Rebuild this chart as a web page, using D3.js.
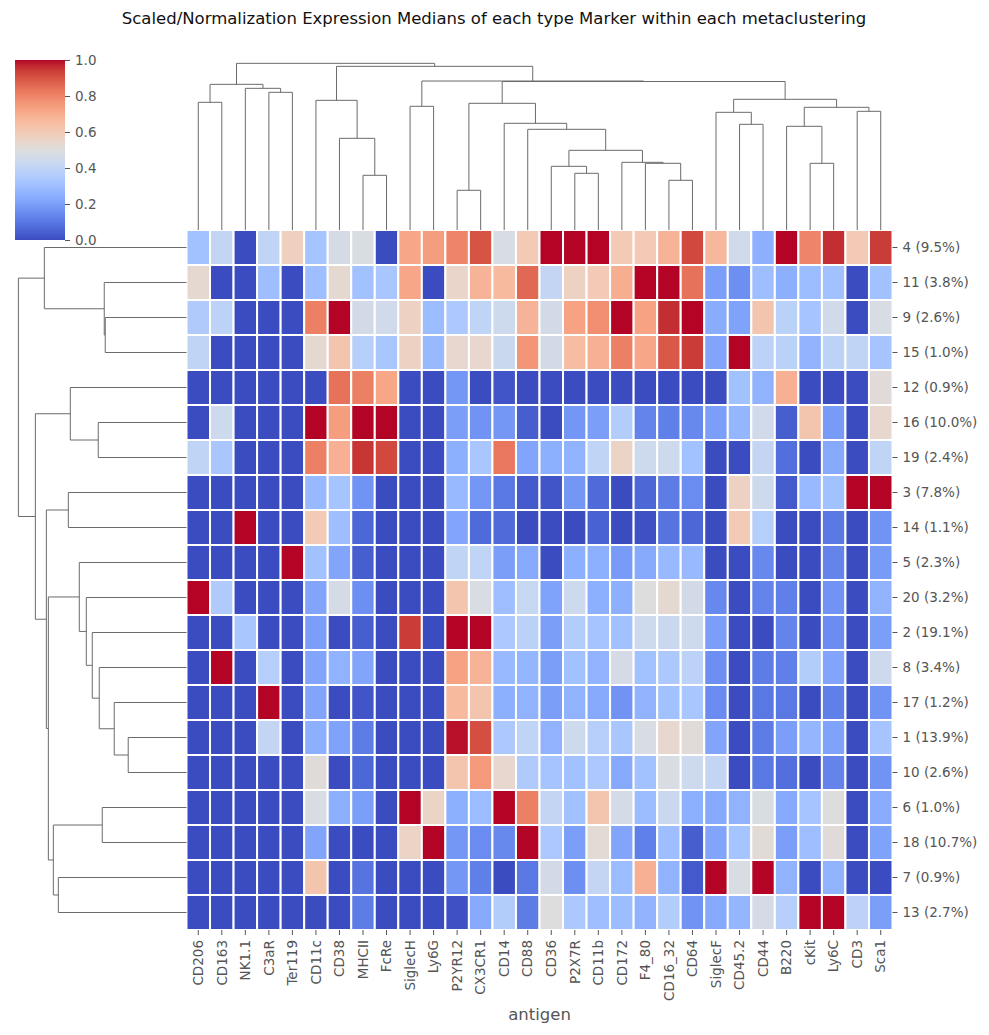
<!DOCTYPE html>
<html>
<head>
<meta charset="utf-8">
<script src="https://cdn.jsdelivr.net/npm/d3@7"></script>
<style>
  body { margin: 0; background: #fff; }
  svg text { font-family: "DejaVu Sans", sans-serif; }
</style>
</head>
<body>
<div id="chart"></div>
<script>
// antigens (columns) in clustered order
const antigens = ["CD206", "CD163", "NK1.1", "C3aR", "Ter119", "CD11c", "CD38", "MHCII", "FcRe",
  "SiglecH", "Ly6G", "P2YR12", "CX3CR1", "CD14", "CD88", "CD36", "P2X7R", "CD11b", "CD172",
  "F4_80", "CD16_32", "CD64", "SiglecF", "CD45.2", "CD44", "B220", "cKit", "Ly6C", "CD3", "Sca1"];

// metaclusters (rows) in clustered order
const clusters = ["4 (9.5%)", "11 (3.8%)", "9 (2.6%)", "15 (1.0%)", "12 (0.9%)", "16 (10.0%)",
  "19 (2.4%)", "3 (7.8%)", "14 (1.1%)", "5 (2.3%)", "20 (3.2%)", "2 (19.1%)", "8 (3.4%)",
  "17 (1.2%)", "1 (13.9%)", "10 (2.6%)", "6 (1.0%)", "18 (10.7%)", "7 (0.9%)", "13 (2.7%)"];

// scaled medians, one row per cluster, same order as antigens
const medians = [
  [0.31,0.41,0.00,0.40,0.58,0.32,0.47,0.48,0.00,0.72,0.74,0.80,0.90,0.48,0.60,1.00,1.00,1.00,0.60,0.60,0.68,0.92,0.67,0.45,0.25,1.00,0.80,0.96,0.60,0.94],
  [0.53,0.00,0.00,0.30,0.00,0.30,0.53,0.31,0.33,0.72,0.00,0.55,0.68,0.66,0.86,0.41,0.57,0.60,0.70,1.00,1.00,0.84,0.20,0.16,0.30,0.25,0.29,0.31,0.00,0.31],
  [0.35,0.39,0.00,0.00,0.00,0.81,1.00,0.46,0.45,0.57,0.29,0.34,0.40,0.44,0.68,0.46,0.73,0.78,1.00,0.73,0.96,1.00,0.24,0.21,0.62,0.38,0.32,0.45,0.00,0.48],
  [0.40,0.00,0.00,0.00,0.00,0.53,0.62,0.37,0.33,0.57,0.28,0.54,0.54,0.43,0.76,0.46,0.65,0.69,0.81,0.72,0.89,0.94,0.22,1.00,0.39,0.38,0.26,0.39,0.40,0.32],
  [0.00,0.00,0.00,0.00,0.00,0.00,0.84,0.81,0.72,0.00,0.00,0.18,0.00,0.02,0.00,0.00,0.00,0.00,0.00,0.00,0.00,0.00,0.00,0.31,0.26,0.69,0.00,0.00,0.00,0.51],
  [0.00,0.44,0.00,0.00,0.00,1.00,0.74,1.00,1.00,0.00,0.00,0.20,0.17,0.18,0.04,0.00,0.18,0.20,0.36,0.13,0.12,0.14,0.20,0.27,0.45,0.04,0.62,0.19,0.00,0.54],
  [0.40,0.33,0.00,0.00,0.00,0.81,0.69,0.95,0.92,0.00,0.00,0.25,0.33,0.83,0.22,0.25,0.26,0.40,0.56,0.44,0.44,0.31,0.00,0.00,0.41,0.08,0.00,0.23,0.00,0.40],
  [0.00,0.00,0.00,0.00,0.00,0.28,0.32,0.17,0.00,0.00,0.00,0.28,0.18,0.10,0.03,0.02,0.18,0.07,0.00,0.06,0.11,0.15,0.00,0.57,0.44,0.03,0.28,0.31,1.00,1.00],
  [0.00,0.00,1.00,0.00,0.00,0.60,0.30,0.06,0.00,0.00,0.00,0.22,0.07,0.07,0.00,0.00,0.00,0.05,0.00,0.01,0.09,0.06,0.00,0.60,0.37,0.00,0.00,0.10,0.00,0.17],
  [0.00,0.00,0.00,0.00,1.00,0.31,0.22,0.04,0.00,0.00,0.00,0.40,0.40,0.20,0.23,0.00,0.25,0.25,0.19,0.23,0.28,0.28,0.00,0.00,0.14,0.00,0.00,0.13,0.00,0.19],
  [1.00,0.35,0.00,0.00,0.00,0.22,0.47,0.16,0.00,0.00,0.00,0.62,0.48,0.30,0.42,0.21,0.44,0.25,0.25,0.50,0.53,0.46,0.14,0.00,0.13,0.12,0.00,0.17,0.00,0.26],
  [0.00,0.00,0.33,0.00,0.00,0.20,0.00,0.04,0.00,0.94,0.00,1.00,1.00,0.34,0.38,0.20,0.36,0.32,0.31,0.44,0.43,0.44,0.20,0.00,0.00,0.13,0.00,0.15,0.00,0.20],
  [0.00,1.00,0.00,0.37,0.00,0.22,0.26,0.22,0.00,0.00,0.00,0.73,0.68,0.28,0.27,0.20,0.31,0.26,0.47,0.31,0.34,0.39,0.16,0.00,0.11,0.12,0.36,0.22,0.00,0.44],
  [0.00,0.00,0.00,1.00,0.00,0.22,0.00,0.02,0.00,0.00,0.00,0.66,0.62,0.25,0.26,0.20,0.26,0.23,0.17,0.26,0.31,0.33,0.15,0.00,0.10,0.10,0.00,0.12,0.00,0.17],
  [0.00,0.00,0.00,0.41,0.00,0.25,0.21,0.11,0.00,0.00,0.00,0.99,0.91,0.34,0.40,0.26,0.44,0.37,0.33,0.48,0.54,0.51,0.22,0.00,0.11,0.20,0.27,0.21,0.00,0.32],
  [0.00,0.00,0.00,0.00,0.00,0.51,0.00,0.06,0.00,0.00,0.00,0.62,0.75,0.54,0.35,0.32,0.31,0.34,0.23,0.31,0.48,0.44,0.41,0.00,0.10,0.08,0.00,0.13,0.00,0.17],
  [0.00,0.00,0.00,0.00,0.00,0.48,0.25,0.20,0.00,1.00,0.56,0.25,0.29,1.00,0.81,0.41,0.31,0.62,0.47,0.29,0.43,0.25,0.23,0.26,0.48,0.23,0.32,0.50,0.00,0.24],
  [0.00,0.00,0.00,0.00,0.00,0.22,0.00,0.00,0.00,0.56,1.00,0.18,0.15,0.14,1.00,0.34,0.20,0.52,0.22,0.12,0.30,0.04,0.22,0.32,0.52,0.20,0.30,0.51,0.00,0.21],
  [0.00,0.00,0.00,0.00,0.00,0.62,0.00,0.09,0.00,0.00,0.00,0.18,0.12,0.00,0.10,0.46,0.16,0.41,0.29,0.69,0.26,0.03,1.00,0.48,1.00,0.26,0.00,0.26,0.00,0.00],
  [0.00,0.00,0.00,0.00,0.00,0.00,0.00,0.11,0.00,0.00,0.00,0.01,0.23,0.36,0.11,0.50,0.34,0.30,0.29,0.26,0.36,0.17,0.23,0.27,0.47,0.37,1.00,1.00,0.39,0.20]
];

// linkage trees: [left, right, merge distance]
const colLinkage = [
  [["CD206", "CD163", 1.277], ["NK1.1", ["C3aR", "Ter119", 1.377], 1.417], 1.457],
  [["CD11c", ["CD38", ["MHCII", "FcRe", 0.547], 0.917], 1.297],
   [["SiglecH", "Ly6G", 1.237],
    [[["P2YR12", "CX3CR1", 0.397],
      ["CD14", ["CD88",
        [["CD36", ["P2X7R", "CD11b", 0.567], 0.637],
         ["CD172", ["F4_80", ["CD16_32", "CD64", 0.497], 0.667], 0.677], 0.797], 1.007], 1.067], 1.267],
     [["SiglecF", ["CD45.2", "CD44", 1.057], 1.177],
      [["B220", ["cKit", "Ly6C", 0.667], 1.037], ["CD3", "Sca1", 1.187], 1.227], 1.307], 1.485], 1.49], 1.637],
  1.667];

const rowLinkage = [
  ["4 (9.5%)", ["11 (3.8%)", ["9 (2.6%)", "15 (1.0%)", 0.814], 0.824], 1.424],
  [["12 (0.9%)", ["16 (10.0%)", "19 (2.4%)", 0.884], 1.164],
   [["3 (7.8%)", "14 (1.1%)", 1.184],
    [["5 (2.3%)", ["20 (3.2%)", ["2 (19.1%)", ["8 (3.4%)", ["17 (1.2%)", ["1 (13.9%)", "10 (2.6%)", 0.584], 0.724], 0.874], 0.944], 1.004], 1.074],
     [["6 (1.0%)", "18 (10.7%)", 0.844], ["7 (0.9%)", "13 (2.7%)", 1.284], 1.334], 1.384], 1.404], 1.514],
  1.684];

const colorbarTicks = [0, 0.2, 0.4, 0.6, 0.8, 1.0];

// coolwarm colour map stops
const coolwarm = ["#3b4cc0","#445acc","#4d68d7","#5775e1","#6282ea","#6c8ef1","#779af7","#82a5fb",
  "#8db0fe","#98b9ff","#a3c2ff","#aec9fd","#b8d0f9","#c2d5f4","#ccd9ee","#d5dbe6","#dddddd",
  "#e5d8d1","#ecd3c5","#f1ccb8","#f5c4ac","#f7bba0","#f7b194","#f7a687","#f49a7b","#f18d6f",
  "#ec7f63","#e57058","#de604d","#d55042","#cb3e38","#c0282f","#b40426"];

const W = 989, H = 1035;
const hm = {left: 186.5, right: 892.5, top: 230, bottom: 930};
const textCol = "#555";
const lineCol = "#6b6b6b";

const svg = d3.select("#chart").append("svg")
    .attr("width", W)
    .attr("height", H);

const color = d3.scaleLinear()
    .domain(coolwarm.map((c, i) => i / (coolwarm.length - 1)))
    .range(coolwarm)
    .clamp(true);

const x = d3.scaleBand().domain(antigens).range([hm.left, hm.right]);
const y = d3.scaleBand().domain(clusters).range([hm.top, hm.bottom]);

// Heatmap cells
const cells = [];
medians.forEach((row, i) => row.forEach((v, j) => cells.push({r: clusters[i], c: antigens[j], v: v})));
svg.append("g").selectAll("rect")
    .data(cells)
    .join("rect")
        .attr("x", d => x(d.c))
        .attr("y", d => y(d.r))
        .attr("width", x.bandwidth())
        .attr("height", y.bandwidth())
        .attr("fill", d => color(d.v))
        .attr("stroke", "#fff")
        .attr("stroke-width", 2);

// X axis (antigens)
const xAxis = svg.append("g")
    .attr("transform", `translate(0,${hm.bottom})`)
    .call(d3.axisBottom(x).tickSize(5).tickPadding(5));
xAxis.select(".domain").remove();
xAxis.selectAll(".tick line").attr("stroke", textCol);
xAxis.selectAll(".tick text")
    .attr("fill", textCol)
    .style("font-size", "13.5px")
    .attr("text-anchor", "end")
    .attr("transform", "rotate(-90)")
    .attr("x", -10)
    .attr("y", 0)
    .attr("dy", "0.35em");

// Y axis (clusters), on the right
const yAxis = svg.append("g")
    .attr("transform", `translate(${hm.right},0)`)
    .call(d3.axisRight(y).tickSize(5).tickPadding(5));
yAxis.select(".domain").remove();
yAxis.selectAll(".tick line").attr("stroke", textCol);
yAxis.selectAll(".tick text")
    .attr("fill", textCol)
    .style("font-size", "13.5px");

// x label
svg.append("text")
    .attr("x", (hm.left + hm.right) / 2)
    .attr("y", 1020)
    .attr("text-anchor", "middle")
    .attr("fill", textCol)
    .style("font-size", "16.5px")
    .text("antigen");

// Title
svg.append("text")
    .attr("x", 494)
    .attr("y", 24)
    .attr("text-anchor", "middle")
    .attr("fill", "#111")
    .style("font-size", "16.5px")
    .text("Scaled/Normalization Expression Medians of each type Marker within each metaclustering");

// walk a linkage tree, return {pos, h} and push U-shaped links
function layout(node, leafPos, links) {
    if (typeof node === "string") return {pos: leafPos(node), h: 0};
    const a = layout(node[0], leafPos, links);
    const b = layout(node[1], leafPos, links);
    links.push({a: a, b: b, h: node[2]});
    return {pos: (a.pos + b.pos) / 2, h: node[2]};
}

// Column dendrogram
const colLinks = [];
layout(colLinkage, k => x(k) + x.bandwidth() / 2, colLinks);
const colH = d3.scaleLinear()
    .domain([0, d3.max(colLinks, d => d.h) * 1.05])
    .range([hm.top, 55]);
svg.append("g").selectAll("path")
    .data(colLinks)
    .join("path")
        .attr("fill", "none")
        .attr("stroke", lineCol)
        .attr("stroke-width", 1)
        .attr("d", d => `M${d.a.pos},${colH(d.a.h)}V${colH(d.h)}H${d.b.pos}V${colH(d.b.h)}`);

// Row dendrogram
const rowLinks = [];
layout(rowLinkage, k => y(k) + y.bandwidth() / 2, rowLinks);
const rowH = d3.scaleLinear()
    .domain([0, d3.max(rowLinks, d => d.h) * 1.05])
    .range([hm.left, 10]);
svg.append("g").selectAll("path")
    .data(rowLinks)
    .join("path")
        .attr("fill", "none")
        .attr("stroke", lineCol)
        .attr("stroke-width", 1)
        .attr("d", d => `M${rowH(d.a.h)},${d.a.pos}H${rowH(d.h)}V${d.b.pos}H${rowH(d.b.h)}`);

// Colour bar
const cb = {x: 15, w: 50, top: 60, bottom: 240};
const defs = svg.append("defs");
const grad = defs.append("linearGradient")
    .attr("id", "cw")
    .attr("x1", 0).attr("y1", 1).attr("x2", 0).attr("y2", 0);
grad.selectAll("stop")
    .data(coolwarm)
    .join("stop")
        .attr("offset", (c, i) => i / (coolwarm.length - 1))
        .attr("stop-color", c => c);
svg.append("rect")
    .attr("x", cb.x)
    .attr("y", cb.top)
    .attr("width", cb.w)
    .attr("height", cb.bottom - cb.top)
    .attr("fill", "url(#cw)");
const cbScale = d3.scaleLinear().domain([0, 1]).range([cb.bottom, cb.top]);
const cbAxis = svg.append("g")
    .attr("transform", `translate(${cb.x + cb.w},0)`)
    .call(d3.axisRight(cbScale).tickValues(colorbarTicks).tickFormat(d3.format(".1f")).tickSize(5).tickPadding(5));
cbAxis.select(".domain").remove();
cbAxis.selectAll(".tick line").attr("stroke", textCol);
cbAxis.selectAll(".tick text")
    .attr("fill", textCol)
    .style("font-size", "13.5px");
</script>
</body>
</html>
